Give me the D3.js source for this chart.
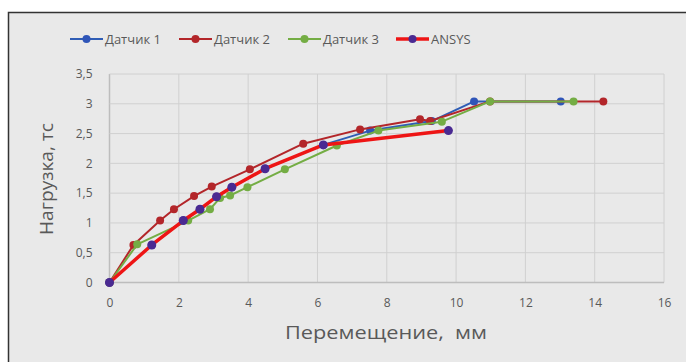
<!DOCTYPE html>
<html>
<head>
<meta charset="utf-8">
<script src="https://cdn.jsdelivr.net/npm/d3@7/dist/d3.min.js"></script>
<style>
  html, body { margin: 0; padding: 0; background: #fff; }
  svg { display: block; }
</style>
</head>
<body>
<svg id="chart" width="686" height="362"></svg>
<script>
// Load–displacement curves: three sensors and the ANSYS model
const sensor1X = [0, 1.22, 2.13, 2.61, 3.09, 3.53, 4.49, 6.17, 7.52, 9.3, 10.52, 13.02];
const sensor1Y = [0, 0.63, 1.04, 1.23, 1.44, 1.6, 1.91, 2.31, 2.55, 2.71, 3.04, 3.04];

const sensor2X = [0, 0.69, 1.46, 1.86, 2.44, 2.95, 4.05, 5.59, 7.23, 8.96, 9.25, 10.98, 14.25];
const sensor2Y = [0, 0.63, 1.04, 1.23, 1.45, 1.61, 1.9, 2.33, 2.57, 2.74, 2.71, 3.04, 3.04];

const sensor3X = [0, 0.8, 2.27, 2.9, 3.19, 3.48, 3.98, 5.06, 6.56, 7.76, 9.59, 10.98, 13.39];
const sensor3Y = [0, 0.64, 1.04, 1.23, 1.42, 1.46, 1.6, 1.9, 2.3, 2.55, 2.7, 3.04, 3.04];

const ansysX = [0, 1.22, 2.13, 2.61, 3.09, 3.53, 4.49, 6.17, 9.78];
const ansysY = [0, 0.63, 1.04, 1.23, 1.44, 1.6, 1.91, 2.31, 2.55];

const seriesNames = ["Датчик 1", "Датчик 2", "Датчик 3", "ANSYS"];
const xTicks = [0, 2, 4, 6, 8, 10, 12, 14, 16];
const yTicks = [0, 0.5, 1, 1.5, 2, 2.5, 3, 3.5];
const xTitle = "Перемещение,\u00A0 мм";
const yTitle = "Нагрузка, тс";

const styles = [
  { line: "#2f5db5", marker: "#2f55b8", width: 2, r: 4 },
  { line: "#b3262a", marker: "#b3262a", width: 2, r: 4 },
  { line: "#74ad44", marker: "#74ad44", width: 2, r: 4 },
  { line: "#ee1515", marker: "#4a2a92", width: 3.5, r: 4.5 }
];

const zip = (xs, ys) => xs.map((x, i) => ({ x, y: ys[i] }));
const series = [
  zip(sensor1X, sensor1Y),
  zip(sensor2X, sensor2Y),
  zip(sensor3X, sensor3Y),
  zip(ansysX, ansysY)
];

const svg = d3.select("#chart");
const font = "'Open Sans', 'Noto Sans', sans-serif";
const textColor = "#595959";

// chart frame
svg.append("rect").attr("x", 0).attr("y", 0).attr("width", 686).attr("height", 362).attr("fill", "#fff");
svg.append("rect").attr("x", 8.5).attr("y", 12.5).attr("width", 700).attr("height", 400)
  .attr("fill", "#e9e9e9").attr("stroke", "#333").attr("stroke-width", 1.5);

const plot = { left: 109.5, right: 664, top: 74, bottom: 282.5 };
const x = d3.scaleLinear().domain([0, 16]).range([plot.left, plot.right]);
const y = d3.scaleLinear().domain([0, 3.5]).range([plot.bottom, plot.top]);

// grid
const grid = svg.append("g");
grid.selectAll("line.v").data(xTicks).join("line")
  .attr("x1", d => x(d)).attr("x2", d => x(d))
  .attr("y1", plot.top).attr("y2", plot.bottom)
  .attr("stroke", d => d === 0 ? "#bdbdbd" : "#d0d0d0").attr("stroke-width", d => d === 0 ? 1.5 : 1);
grid.selectAll("line.h").data(yTicks).join("line")
  .attr("x1", plot.left).attr("x2", plot.right)
  .attr("y1", d => y(d)).attr("y2", d => y(d))
  .attr("stroke", d => d === 0 ? "#bdbdbd" : "#d0d0d0").attr("stroke-width", d => d === 0 ? 1.5 : 1);

// axes (labels only)
const fmt = d => String(d).replace(".", ",");
const xAxis = svg.append("g").attr("transform", `translate(0,${plot.bottom + 13})`)
  .call(d3.axisBottom(x).tickValues(xTicks).tickFormat(fmt).tickSize(0));
const yAxis = svg.append("g").attr("transform", `translate(${plot.left - 14},0)`)
  .call(d3.axisLeft(y).tickValues(yTicks).tickFormat(fmt).tickSize(0));
[xAxis, yAxis].forEach(a => {
  a.select(".domain").remove();
  a.selectAll("text").attr("fill", textColor).style("font-family", font).style("font-size", "12px");
});

// series lines and markers
const line = d3.line().x(d => x(d.x)).y(d => y(d.y));
series.forEach((pts, i) => {
  const st = styles[i];
  const g = svg.append("g");
  g.append("path").datum(pts).attr("d", line)
    .attr("fill", "none").attr("stroke", st.line).attr("stroke-width", st.width)
    .attr("stroke-linejoin", "round").attr("stroke-linecap", "round");
  g.selectAll("circle").data(pts).join("circle")
    .attr("cx", d => x(d.x)).attr("cy", d => y(d.y)).attr("r", st.r)
    .attr("fill", st.marker);
});

// axis titles
svg.append("text").attr("x", 386).attr("y", 339).attr("text-anchor", "middle")
  .attr("textLength", 202).attr("lengthAdjust", "spacingAndGlyphs")
  .attr("fill", textColor).style("font-family", font).style("font-size", "18.5px").text(xTitle);
svg.append("text").attr("transform", "translate(53,179) rotate(-90)").attr("text-anchor", "middle")
  .attr("textLength", 112).attr("lengthAdjust", "spacingAndGlyphs")
  .attr("fill", textColor).style("font-family", font).style("font-size", "17.5px").text(yTitle);

// legend
const legendX = [70, 179, 288, 396];
const legend = svg.append("g");
seriesNames.forEach((name, i) => {
  const st = styles[i];
  const g = legend.append("g").attr("transform", `translate(${legendX[i]},39)`);
  g.append("line").attr("x1", 0).attr("x2", 33).attr("y1", 0).attr("y2", 0)
    .attr("stroke", st.line).attr("stroke-width", i === 3 ? 3.5 : 2);
  g.append("circle").attr("cx", 16.5).attr("cy", 0).attr("r", 4).attr("fill", st.marker);
  g.append("text").attr("x", 35).attr("y", 4.5).attr("fill", textColor)
    .style("font-family", font).style("font-size", "13px").text(name);
});
</script>
</body>
</html>
